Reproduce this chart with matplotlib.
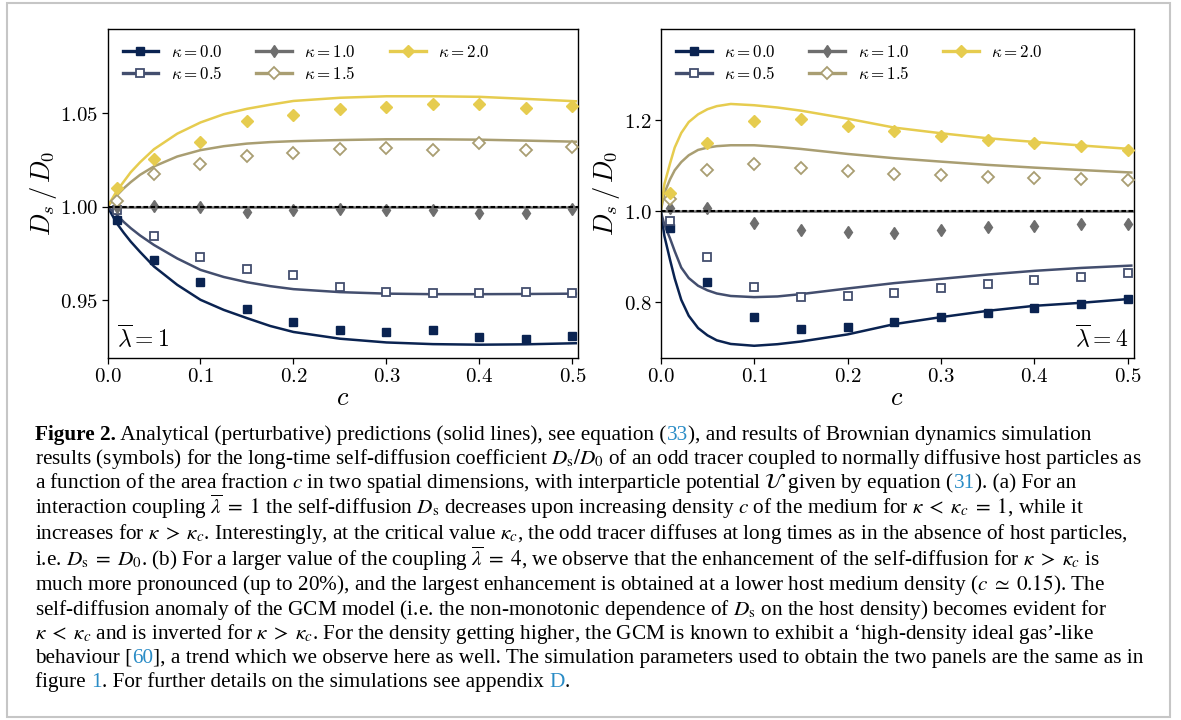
import matplotlib
matplotlib.use('Agg')
import matplotlib.pyplot as plt
from matplotlib.lines import Line2D
from matplotlib.patches import Rectangle
import matplotlib.ticker as mticker

plt.rcParams['mathtext.fontset'] = 'cm'
plt.rcParams['font.family'] = ['DejaVu Serif']

# ---------------- data ----------------
kappa_labels = [r'$\kappa=0.0$', r'$\kappa=0.5$', r'$\kappa=1.0$', r'$\kappa=1.5$', r'$\kappa=2.0$']
colors = ['#0a2351', '#434e6e', '#6e6e6e', '#a99e72', '#e6cc4f']

c_sim = [0.01, 0.05, 0.1, 0.15, 0.2, 0.25, 0.3, 0.35, 0.4, 0.45, 0.5]

# panel (a): lambda = 1, simulations
sim1_k00 = [0.9929, 0.9715, 0.9596, 0.9454, 0.9383, 0.9338, 0.9329, 0.9338, 0.9304, 0.9290, 0.9306]
sim1_k05 = [0.9982, 0.9845, 0.9730, 0.9667, 0.9634, 0.9573, 0.9543, 0.9539, 0.9539, 0.9543, 0.9537]
sim1_k10 = [1.0000, 1.0005, 1.0000, 0.9973, 0.9982, 0.9988, 0.9982, 0.9982, 0.9968, 0.9965, 0.9988]
sim1_k15 = [1.0032, 1.0173, 1.0226, 1.0271, 1.0288, 1.0308, 1.0315, 1.0303, 1.0342, 1.0301, 1.0320]
sim1_k20 = [1.0098, 1.0253, 1.0344, 1.0458, 1.0491, 1.0522, 1.0531, 1.0550, 1.0547, 1.0525, 1.0536]

# panel (a): theory curves
c_th1 = [0.0, 0.005, 0.01, 0.0175, 0.025, 0.035, 0.05, 0.075, 0.1, 0.125, 0.15, 0.175, 0.2,
         0.25, 0.3, 0.35, 0.4, 0.45, 0.505]
th1_k00 = [1.0, 0.9955, 0.9911, 0.9860, 0.9813, 0.9758, 0.9680, 0.9582, 0.9502, 0.9448, 0.9404,
           0.9362, 0.9330, 0.9294, 0.9274, 0.9265, 0.9262, 0.9264, 0.9270]
th1_k05 = [1.0, 0.9976, 0.9956, 0.9918, 0.9885, 0.9846, 0.9795, 0.9723, 0.9662, 0.9624, 0.9596,
           0.9575, 0.9559, 0.9543, 0.9535, 0.9532, 0.9532, 0.9533, 0.9535]
th1_k15 = [1.0, 1.0031, 1.0060, 1.0098, 1.0131, 1.0170, 1.0215, 1.0268, 1.0302, 1.0323, 1.0337,
           1.0345, 1.0350, 1.0356, 1.0360, 1.0360, 1.0358, 1.0353, 1.0347]
th1_k20 = [1.0, 1.0042, 1.0084, 1.0134, 1.0184, 1.0237, 1.0307, 1.0390, 1.0450, 1.0494, 1.0523,
           1.0545, 1.0565, 1.0582, 1.0590, 1.0590, 1.0587, 1.0576, 1.0563]

# panel (b): lambda = 4, simulations
sim4_k00 = [0.9626, 0.8453, 0.7662, 0.7413, 0.7451, 0.7560, 0.7662, 0.7771, 0.7881, 0.7963, 0.8073]
sim4_k05 = [0.9787, 0.9003, 0.8343, 0.8110, 0.8145, 0.8198, 0.8308, 0.8402, 0.8483, 0.8556, 0.8637]
sim4_k10 = [1.0066, 1.0080, 0.9750, 0.9589, 0.9545, 0.9530, 0.9596, 0.9648, 0.9677, 0.9721, 0.9718]
sim4_k15 = [1.0264, 1.0908, 1.1033, 1.0958, 1.0886, 1.0813, 1.0798, 1.0761, 1.0739, 1.0717, 1.0681]
sim4_k20 = [1.0409, 1.1494, 1.1985, 1.2028, 1.1881, 1.1771, 1.1661, 1.1567, 1.1508, 1.1442, 1.1347]

# panel (b): theory curves
c_th4 = [0.0, 0.004, 0.01, 0.015, 0.022, 0.03, 0.04, 0.05, 0.06, 0.075, 0.1, 0.125, 0.15,
         0.2, 0.25, 0.3, 0.35, 0.4, 0.45, 0.505]
th4_k00 = [1.0, 0.945, 0.893, 0.852, 0.805, 0.770, 0.743, 0.727, 0.716, 0.708, 0.704, 0.7075,
           0.7134, 0.7290, 0.7516, 0.7670, 0.7809, 0.7919, 0.7985, 0.8075]
th4_k05 = [1.0, 0.970, 0.940, 0.912, 0.876, 0.853, 0.836, 0.826, 0.819, 0.8135, 0.811, 0.8125,
           0.8176, 0.8300, 0.8418, 0.8512, 0.8607, 0.8688, 0.8752, 0.8805]
th4_k15 = [1.0, 1.040, 1.070, 1.090, 1.108, 1.123, 1.1347, 1.1398, 1.143, 1.145, 1.145, 1.1415,
           1.1369, 1.1259, 1.1165, 1.1090, 1.1018, 1.0958, 1.0905, 1.0849]
th4_k20 = [1.0, 1.060, 1.105, 1.140, 1.172, 1.196, 1.213, 1.2242, 1.231, 1.2358, 1.233, 1.228,
           1.2211, 1.2035, 1.1838, 1.1714, 1.1604, 1.1523, 1.1445, 1.1365]

# kappa = kappa_c: constant theory
c_th_flat = [0.0, 0.505]
th_k10 = [1.0, 1.0]
ref_level = 1.0

x_ticks = [0.0, 0.1, 0.2, 0.3, 0.4, 0.5]
y_ticks1 = [0.95, 1.00, 1.05]
y_ticks4 = [0.8, 1.0, 1.2]
panel_texts = [r'$\overline{\lambda}=1$', r'$\overline{\lambda}=4$']

# ---------------- figure ----------------
W, H = 1181, 720
fig = plt.figure(figsize=(W / 100, H / 100), dpi=100)
fig.patch.set_facecolor('white')


def fx(px):
    return px / W


def fy(py):
    return 1 - py / H


fig.add_artist(Rectangle((fx(7), fy(717)), fx(1170) - fx(7), fy(3) - fy(717),
                         transform=fig.transFigure, fill=False, edgecolor='#c6c6c6', lw=1.5))

ax1 = fig.add_axes([fx(107.5), fy(357.6), fx(578) - fx(107.5), fy(29.3) - fy(357.6)])
ax2 = fig.add_axes([fx(660.7), fy(357.6), fx(1133.5) - fx(660.7), fy(29.3) - fy(357.6)])

marker_styles = [
    dict(marker='s', ms=5.5, mfc=colors[0], mec=colors[0], mew=1.0),
    dict(marker='s', ms=5.5, mfc='white', mec=colors[1], mew=1.3),
    dict(marker='d', ms=6.5, mfc=colors[2], mec=colors[2], mew=1.0),
    dict(marker='D', ms=6, mfc='white', mec=colors[3], mew=1.3),
    dict(marker='D', ms=6.5, mfc=colors[4], mec=colors[4], mew=1.0),
]


def draw_panel(ax, c_th, theory, sims, yticks, yfmt, ylim, ptext, pt_pos, pt_ha, ylab_x):
    ax.plot(c_th_flat, th_k10, color=colors[2], lw=1.8, zorder=2)
    th_list = [theory[0], theory[1], None, theory[2], theory[3]]
    for i, th in enumerate(th_list):
        if th is not None:
            ax.plot(c_th, th, color=colors[i], lw=1.8, zorder=2, solid_capstyle='butt')
    ax.axhline(ref_level, color='black', lw=1.5, dashes=(2.2, 1.2), zorder=4)
    for i, s in enumerate(sims):
        ax.plot(c_sim, s, ls='none', zorder=3, **marker_styles[i])
    ax.set_xlim(0, 0.506)
    ax.set_ylim(*ylim)
    ax.set_xticks(x_ticks)
    ax.set_yticks(yticks)
    ax.xaxis.set_major_formatter(mticker.FuncFormatter(lambda v, p: r'$%.1f$' % v))
    ax.yaxis.set_major_formatter(mticker.FuncFormatter(lambda v, p: (r'$' + yfmt + r'$') % v))
    ax.tick_params(axis='both', labelsize=15, length=4, width=0.9, pad=2.5)
    for sp in ax.spines.values():
        sp.set_linewidth(1.0)
    ax.set_ylabel(r'$D_s\,/\,D_0$', fontsize=19)
    ax.yaxis.set_label_coords(ylab_x, 0.5)
    ax.set_xlabel(r'$c$', fontsize=19, va='top')
    ax.xaxis.set_label_coords(0.5, -0.083)
    ax.text(pt_pos[0], pt_pos[1], ptext, transform=ax.transAxes, fontsize=17,
            ha=pt_ha, va='baseline')
    handles = []
    for i in range(5):
        handles.append(Line2D([0], [0], color=colors[i], lw=2.4, **marker_styles[i]))
    ax.legend(handles, kappa_labels, ncol=3, frameon=False, fontsize=12.2,
              loc='upper left', bbox_to_anchor=(0.0175, 0.975), borderaxespad=0,
              handlelength=2.12, handletextpad=0.73, columnspacing=1.98, labelspacing=0.3)


draw_panel(ax1, c_th1, [th1_k00, th1_k05, th1_k15, th1_k20],
           [sim1_k00, sim1_k05, sim1_k10, sim1_k15, sim1_k20],
           y_ticks1, '%.2f', (0.9193, 1.0948), panel_texts[0], (0.02, 0.033), 'left', -0.103)
draw_panel(ax2, c_th4, [th4_k00, th4_k05, th4_k15, th4_k20],
           [sim4_k00, sim4_k05, sim4_k10, sim4_k15, sim4_k20],
           y_ticks4, '%.1f', (0.678, 1.40), panel_texts[1], (0.99, 0.033), 'right', -0.082)

# ---------------- caption ----------------
caption_lines = [
    [("Figure 2.", 'b'), (" Analytical (perturbative) predictions (solid lines), see equation (", 'n'),
     ("33", 'l'), ("), and results of Brownian dynamics simulation", 'n')],
    [(r"results (symbols) for the long-time self-diffusion coefficient $D_\mathrm{s}/D_0$ of an odd tracer coupled to normally diffusive host particles as", 'n')],
    [(r"a function of the area fraction $c$ in two spatial dimensions, with interparticle potential $\mathcal{U}$ given by equation (", 'n'),
     ("31", 'l'), ("). (a) For an", 'n')],
    [(r"interaction coupling $\overline{\lambda}\;=\;1$ the self-diffusion $D_\mathrm{s}$ decreases upon increasing density $c$ of the medium for $\kappa\;<\;\kappa_c\;=\;1$, while it", 'n')],
    [(r"increases for $\kappa\;>\;\kappa_c$. Interestingly, at the critical value $\kappa_c$, the odd tracer diffuses at long times as in the absence of host particles,", 'n')],
    [(r"i.e. $D_\mathrm{s}\;=\;D_0$. (b) For a larger value of the coupling $\overline{\lambda}\;=\;4$, we observe that the enhancement of the self-diffusion for $\kappa\;>\;\kappa_c$ is", 'n')],
    [(r"much more pronounced (up to 20%), and the largest enhancement is obtained at a lower host medium density ($c\;\simeq\;0.15$). The", 'n')],
    [(r"self-diffusion anomaly of the GCM model (i.e. the non-monotonic dependence of $D_\mathrm{s}$ on the host density) becomes evident for", 'n')],
    [(r"$\kappa\;<\;\kappa_c$ and is inverted for $\kappa\;>\;\kappa_c$. For the density getting higher, the GCM is known to exhibit a ‘high-density ideal gas’-like", 'n')],
    [("behaviour [", 'n'), ("60", 'l'), ("], a trend which we observe here as well. The simulation parameters used to obtain the two panels are the same as in", 'n')],
    [("figure ", 'n'), ("1", 'l'), (". For further details on the simulations see appendix ", 'n'), ("D", 'l'), (".", 'n')],
]
caption_baselines = [440, 464, 488, 514, 539, 566, 590, 615, 639, 663, 687]
link_color = '#2a8cc6'
cap_x0 = 35.2
cap_line1_width = 1060.3

renderer = fig.canvas.get_renderer()


def seg_kw(kind, fs):
    kw = dict(fontsize=fs, family=['Liberation Serif', 'DejaVu Serif'], math_fontfamily='stix',
              color='black', fontweight='normal')
    if kind == 'b':
        kw['fontweight'] = 'bold'
    if kind == 'l':
        kw['color'] = link_color
    return kw


def seg_width(s, kw):
    t1 = fig.text(0, 0, 'a' + s + 'a', **kw)
    t2 = fig.text(0, 0, 'aa', **kw)
    w = t1.get_window_extent(renderer).width - t2.get_window_extent(renderer).width
    t1.remove()
    t2.remove()
    return w


fs_test = 14.0
w_test = sum(seg_width(s, seg_kw(k, fs_test)) for s, k in caption_lines[0])
cap_fs = fs_test * cap_line1_width / w_test

for line, yb in zip(caption_lines, caption_baselines):
    x = cap_x0
    for s, k in line:
        kw = seg_kw(k, cap_fs)
        fig.text(fx(x), fy(yb), s, ha='left', va='baseline', **kw)
        x += seg_width(s, kw)

fig.savefig('out.png', dpi=100, facecolor='white')
